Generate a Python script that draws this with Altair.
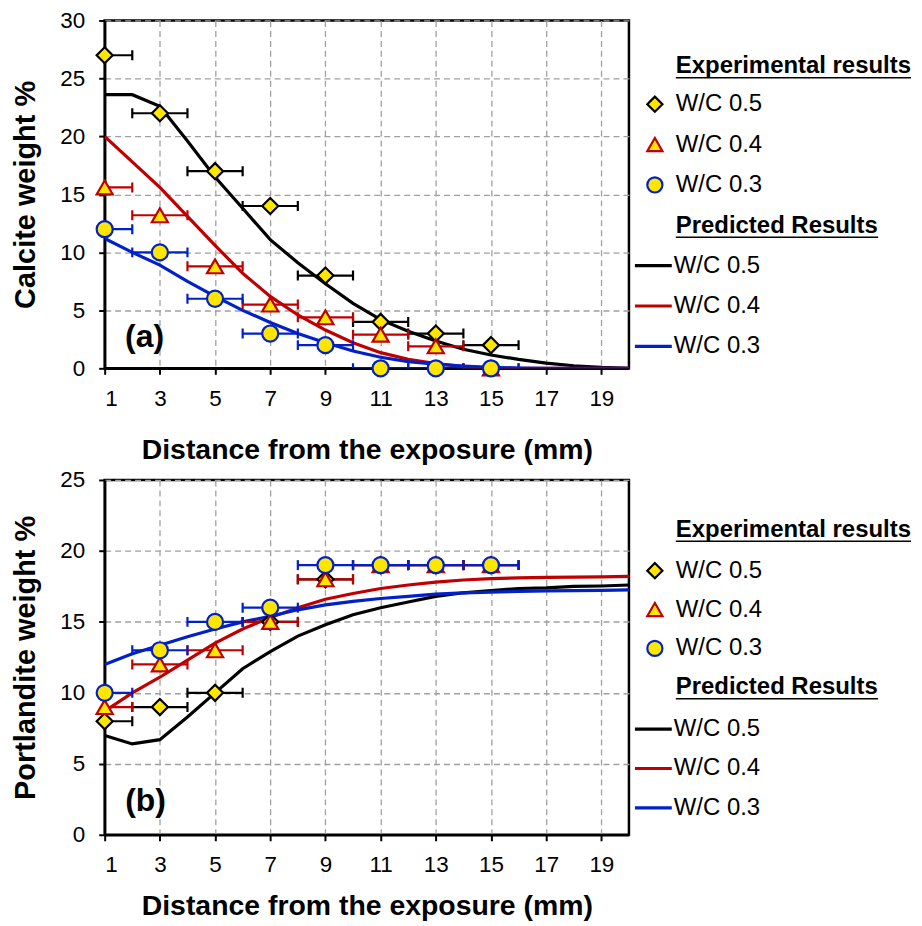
import altair as alt
import pandas as pd

FONT = "Liberation Sans"
SERIES = ["W/C 0.5", "W/C 0.4", "W/C 0.3"]
MODELS = ["Pred W/C 0.5", "Pred W/C 0.4", "Pred W/C 0.3"]
COLORS = ["#000000", "#C00000", "#0020C8"]
SHAPES = ["diamond", "triangle-up", "circle"]
YELLOW = "#FFE600"

# ---------- data ----------
x_exp = [1, 3, 5, 7, 9, 11, 13, 15]
x_err = [1, 1, 1, 1, 1, 1, 1, 1]

calcite_exp_05 = [27, 22, 17, 14, 8, 4, 3, 2]
calcite_exp_04 = [15.6, 13.2, 8.8, 5.5, 4.4, 2.9, 1.9, 0]
calcite_exp_03 = [12, 10, 6, 3, 2, 0, 0, 0]

portl_exp_05 = [8, 9, 10, 15, 18, 19, 19, 19]
portl_exp_04 = [9, 12, 13, 15, 18, 19, 19, 19]
portl_exp_03 = [10, 13, 15, 16, 19, 19, 19, 19]

x_pred = [1, 2, 3, 4, 5, 6, 7, 8, 9, 10, 11, 12, 13, 14, 15, 16, 17, 18, 19, 20]

calcite_pred_05 = [23.6, 23.6, 22.6, 19.6, 16.5, 13.8, 11.1, 9.1, 7.3, 5.6,
                   4.2, 3.2, 2.35, 1.65, 1.15, 0.77, 0.45, 0.22, 0.08, 0.0]
calcite_pred_04 = [20.0, 17.8, 15.6, 13.1, 10.6, 8.2, 6.2, 4.6, 3.3, 2.2,
                   1.35, 0.78, 0.4, 0.15, 0.02, 0.0, 0.0, 0.0, 0.0, 0.0]
calcite_pred_03 = [11.2, 10.0, 8.9, 7.5, 6.2, 5.0, 3.95, 3.0, 2.2, 1.5,
                   0.95, 0.58, 0.36, 0.2, 0.09, 0.03, 0.0, 0.0, 0.0, 0.0]

portl_pred_05 = [7.0, 6.4, 6.7, 8.3, 10.0, 11.7, 12.9, 14.0, 14.8, 15.5,
                 16.0, 16.4, 16.8, 17.05, 17.2, 17.35, 17.4, 17.5, 17.53, 17.6]
portl_pred_04 = [8.7, 10.0, 11.1, 12.3, 13.5, 14.5, 15.3, 16.0, 16.6, 17.0,
                 17.35, 17.6, 17.8, 17.95, 18.05, 18.1, 18.13, 18.15, 18.17, 18.2]
portl_pred_03 = [12.0, 12.75, 13.35, 13.95, 14.5, 15.0, 15.4, 15.85, 16.2, 16.45,
                 16.65, 16.8, 16.95, 17.05, 17.1, 17.15, 17.18, 17.2, 17.22, 17.25]

x_ticks = [1, 3, 5, 7, 9, 11, 13, 15, 17, 19]


def exp_frame(ys_list):
    rows = []
    for s, ys in zip(SERIES, ys_list):
        for x, y, e in zip(x_exp, ys, x_err):
            rows.append({"series": s, "x": x, "y": y, "xlo": x - e, "xhi": x + e})
    return pd.DataFrame(rows)


def cap_frame(df):
    lo = df[["series", "xlo", "y"]].rename(columns={"xlo": "cx"})
    hi = df[["series", "xhi", "y"]].rename(columns={"xhi": "cx"})
    return pd.concat([lo, hi], ignore_index=True)


def pred_frame(ys_list):
    rows = []
    for s, ys in zip(MODELS, ys_list):
        for x, y in zip(x_pred, ys):
            rows.append({"model": s, "x": x, "y": y})
    return pd.DataFrame(rows)


def panel(exp_lists, pred_lists, ytitle, ymax, height, tag, tag_xy,
          xtitle_y, hdr, pleg, lleg):
    W = 526
    xscale = alt.Scale(domain=[1, 20], nice=False, zero=False)
    yscale = alt.Scale(domain=[0, ymax], nice=False)
    common = dict(grid=True, gridColor="#A0A0A0", gridDash=[6, 4], gridWidth=1.3,
                  tickColor="black", tickWidth=2, tickSize=6,
                  domainColor="black", domainWidth=2.5,
                  labelFont=FONT, labelFontSize=22.5, labelColor="black",
                  titleFont=FONT, titleFontWeight="bold", titleColor="black")
    xaxis = alt.Axis(values=x_ticks, title="Distance from the exposure (mm)",
                     titleY=xtitle_y, titleBaseline="alphabetic", titleFontSize=28.5,
                     labelPadding=13, **common)
    yaxis = alt.Axis(values=list(range(0, ymax + 1, 5)), title=ytitle,
                     titleX=-70, titleBaseline="alphabetic", titleFontSize=29,
                     labelPadding=14, **common)

    def X(field):
        return alt.X(field, type="quantitative", scale=xscale, axis=xaxis)

    def Y(field):
        return alt.Y(field, type="quantitative", scale=yscale, axis=yaxis)

    line_leg = alt.Legend(orient="none", legendX=530, legendY=lleg[0], title=None,
                          symbolType="stroke", symbolSize=1369, symbolStrokeWidth=3.2,
                          labelOffset=0, rowPadding=lleg[1], padding=0,
                          labelFont=FONT, labelFontSize=24, labelColor="black",
                          labelLimit=300, labelExpr="slice(datum.label, 5)")
    pt_leg = alt.Legend(orient="none", legendX=540, legendY=pleg[0], title=None,
                        symbolSize=230, symbolStrokeWidth=2.2,
                        symbolFillColor=YELLOW, labelOffset=9,
                        rowPadding=pleg[1], padding=0,
                        labelFont=FONT, labelFontSize=24, labelColor="black",
                        labelLimit=300)
    stroke = alt.Stroke("series:N", scale=alt.Scale(domain=SERIES, range=COLORS),
                        legend=pt_leg)

    exp = exp_frame(exp_lists)
    caps = cap_frame(exp)
    pred = pred_frame(pred_lists)

    lines = alt.Chart(pred).mark_line(clip=True, strokeWidth=3.2).encode(
        x=X("x"), y=Y("y"),
        color=alt.Color("model:N", scale=alt.Scale(domain=MODELS, range=COLORS),
                        legend=line_leg),
    )
    rules = alt.Chart(exp).mark_rule(clip=True, strokeWidth=2.2).encode(
        x=X("xlo"), x2="xhi", y=Y("y"), stroke=stroke)
    capm = alt.Chart(caps).mark_point(shape="M0,-1L0,1", size=100, strokeWidth=2.2,
                                      filled=False, opacity=1, clip=True).encode(
        x=X("cx"), y=Y("y"), stroke=stroke)
    points = alt.Chart(exp).mark_point(size=260, strokeWidth=2.2, opacity=1,
                                       fillOpacity=1).encode(
        x=X("x"), y=Y("y"),
        shape=alt.Shape("series:N", scale=alt.Scale(domain=SERIES, range=SHAPES),
                        legend=pt_leg),
        fill=alt.Fill("series:N", scale=alt.Scale(domain=SERIES,
                                                  range=[YELLOW, YELLOW, YELLOW]),
                      legend=pt_leg),
        stroke=stroke,
    )

    one = pd.DataFrame({"k": [0]})
    tag_text = alt.Chart(one).mark_text(
        text=tag, font=FONT, fontSize=32, fontWeight="bold", color="black",
        align="center", baseline="middle").encode(
        x=alt.value(tag_xy[0]), y=alt.value(tag_xy[1]))

    hx, h1, h2 = hdr
    head1 = alt.Chart(one).mark_text(
        text="Experimental results", font=FONT, fontSize=24, fontWeight="bold",
        color="black", align="left", baseline="alphabetic").encode(
        x=alt.value(hx), y=alt.value(h1))
    head2 = alt.Chart(one).mark_text(
        text="Predicted Results", font=FONT, fontSize=24, fontWeight="bold",
        color="black", align="left", baseline="alphabetic").encode(
        x=alt.value(hx), y=alt.value(h2))
    ul1 = alt.Chart(one).mark_rule(color="black", strokeWidth=1.6).encode(
        x=alt.value(hx), x2=alt.value(hx + 236), y=alt.value(h1 + 4.5))
    ul2 = alt.Chart(one).mark_rule(color="black", strokeWidth=1.6).encode(
        x=alt.value(hx), x2=alt.value(hx + 203), y=alt.value(h2 + 4.5))

    return alt.layer(lines, rules, capm, points, tag_text,
                     head1, head2, ul1, ul2).properties(width=W, height=height)


pa = panel([calcite_exp_05, calcite_exp_04, calcite_exp_03],
           [calcite_pred_05, calcite_pred_04, calcite_pred_03],
           "Calcite weight %", 30, 349, "(a)", (40, 318),
           90, (573, 53, 213), (72, 16.5), (225.5, 7.5))
pb = panel([portl_exp_05, portl_exp_04, portl_exp_03],
           [portl_pred_05, portl_pred_04, portl_pred_03],
           "Portlandite weight %", 25, 356, "(b)", (41, 322),
           80, (573, 57, 215), (79, 15), (229.5, 6.5))

chart = alt.vconcat(pa, pb, spacing=2).resolve_scale(
    color="independent", shape="independent", stroke="independent",
    fill="independent", x="independent", y="independent"
).resolve_legend(
    color="independent", shape="independent", stroke="independent",
    fill="independent"
).properties(
    padding={"left": 2, "top": -2, "right": 0, "bottom": 0},
    background="white",
).configure_view(
    stroke="black", strokeWidth=2.5
)

chart.save("out.html", embed_options={"renderer": "svg", "actions": False})
